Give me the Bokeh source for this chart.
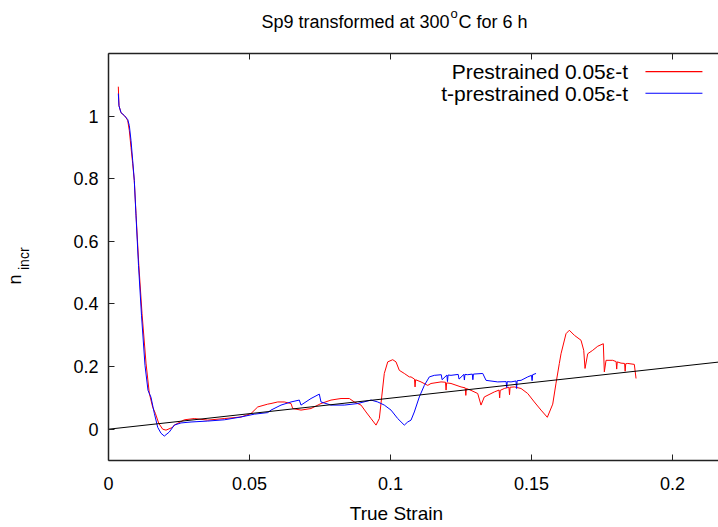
import math
from bokeh.plotting import figure
from bokeh.models import Range1d, LinearAxis, Label, FixedTicker
from bokeh.layouts import row, column
from bokeh.core.properties import value
from bokeh.embed import file_html
from bokeh.resources import INLINE

# ---------------- data ----------------
red_x = [0.00348, 0.00372, 0.00443, 0.00560, 0.00621, 0.00681, 0.00738, 0.00798,
         0.00858, 0.00915, 0.00975, 0.01071, 0.01188, 0.01330, 0.01447, 0.01567,
         0.01660, 0.01780, 0.01922, 0.02039, 0.02277, 0.02333, 0.02688, 0.03043,
         0.03518, 0.04106, 0.04699, 0.05053, 0.05291, 0.05645, 0.05762, 0.06000,
         0.06234, 0.06472, 0.06532, 0.06826, 0.07181, 0.07535, 0.07890, 0.08245,
         0.08539, 0.08716, 0.08954, 0.09131, 0.09309, 0.09486, 0.09603, 0.09688,
         0.09780, 0.09901, 0.10078, 0.10195, 0.10312, 0.10489, 0.10667, 0.10727,
         0.10850, 0.10870, 0.10890,
         0.11082, 0.11319, 0.11436, 0.11791,
         0.11950, 0.11970, 0.11990,
         0.12145, 0.12500,
         0.12650, 0.12670, 0.12690,
         0.12855, 0.13092, 0.13209, 0.13326, 0.13681,
         0.13850, 0.13870, 0.13890,
         0.14035,
         0.14200, 0.14220, 0.14240,
         0.14390, 0.14628, 0.14865, 0.15099,
         0.15337, 0.15560, 0.15752, 0.15869, 0.15986, 0.16046, 0.16223, 0.16340,
         0.16518, 0.16755, 0.16851, 0.16897, 0.16993, 0.17170, 0.17348, 0.17546,
         0.17582, 0.17642, 0.17879,
         0.18000, 0.18020, 0.18040,
         0.18174,
         0.18300, 0.18320, 0.18340,
         0.18411, 0.18645, 0.18706]
red_y = [1.094, 1.033, 1.011, 1.002, 0.995, 0.986, 0.954, 0.900,
         0.848, 0.794, 0.689, 0.530, 0.370, 0.211, 0.115, 0.070,
         0.051, 0.019, 0.000, -0.003, 0.006, 0.013, 0.030, 0.034,
         0.029, 0.034, 0.039, 0.050, 0.071, 0.080, 0.082, 0.087,
         0.087, 0.082, 0.066, 0.061, 0.066, 0.082, 0.093, 0.098,
         0.098, 0.087, 0.077, 0.055, 0.034, 0.013, 0.034, 0.103,
         0.178, 0.215, 0.222, 0.215, 0.188, 0.178, 0.167, 0.167,
         0.160, 0.135, 0.158,
         0.151, 0.140, 0.146, 0.151,
         0.150, 0.125, 0.148,
         0.146, 0.135,
         0.132, 0.108, 0.130,
         0.124, 0.114, 0.077, 0.103, 0.119,
         0.125, 0.100, 0.124,
         0.130,
         0.134, 0.110, 0.134,
         0.135, 0.130, 0.114, 0.087,
         0.061, 0.038, 0.080, 0.147, 0.210, 0.241, 0.305, 0.316,
         0.300, 0.284, 0.252, 0.194, 0.241, 0.252, 0.265, 0.273,
         0.183, 0.220, 0.220,
         0.216, 0.192, 0.215,
         0.211,
         0.210, 0.185, 0.209,
         0.210, 0.207, 0.162]

blue_x = [0.00348, 0.00372, 0.00443, 0.00560, 0.00681, 0.00738, 0.00798, 0.00858,
          0.00915, 0.00975, 0.01064, 0.01170, 0.01294, 0.01401, 0.01507, 0.01624,
          0.01745, 0.01862, 0.01979, 0.02156, 0.02333, 0.02571, 0.02926, 0.03518,
          0.04106, 0.04699, 0.05170, 0.05645, 0.05762, 0.06117, 0.06472, 0.06766,
          0.06826, 0.07181, 0.07475, 0.07535, 0.07890, 0.08362, 0.08837, 0.09309,
          0.09546, 0.09780, 0.10018, 0.10255, 0.10489, 0.10610, 0.10727, 0.10844,
          0.11021, 0.11199, 0.11376, 0.11553, 0.11800, 0.11830,
          0.12000, 0.12020, 0.12040,
          0.12145, 0.12400, 0.12430,
          0.12600, 0.12620, 0.12640,
          0.12738,
          0.12900, 0.12920, 0.12940,
          0.13270, 0.13387, 0.13801,
          0.14100, 0.14120, 0.14140,
          0.14273,
          0.14450, 0.14470, 0.14490,
          0.14628, 0.14865,
          0.15000, 0.15020, 0.15040,
          0.15160]
blue_y = [1.072, 1.033, 1.011, 1.002, 0.989, 0.970, 0.922, 0.858,
          0.794, 0.683, 0.523, 0.364, 0.204, 0.124, 0.102, 0.051,
          0.006, -0.013, -0.022, -0.009, 0.013, 0.020, 0.023, 0.026,
          0.030, 0.039, 0.048, 0.053, 0.061, 0.077, 0.087, 0.093,
          0.077, 0.098, 0.112, 0.087, 0.077, 0.077, 0.082, 0.093,
          0.087, 0.077, 0.061, 0.034, 0.013, 0.023, 0.029, 0.055,
          0.103, 0.140, 0.167, 0.172, 0.174, 0.158,
          0.173, 0.152, 0.173,
          0.172, 0.175, 0.160,
          0.175, 0.157, 0.175,
          0.174,
          0.176, 0.158, 0.176,
          0.178, 0.156, 0.151,
          0.152, 0.133, 0.152,
          0.151,
          0.154, 0.130, 0.155,
          0.156, 0.167,
          0.172, 0.155, 0.174,
          0.178]

fit_x = [0.0, 0.22]
fit_y = [0.0, 0.218]

x_ticks = [0.0, 0.05, 0.1, 0.15, 0.2]
x_tick_labels = ["0", "0.05", "0.1", "0.15", "0.2"]
y_ticks = [0.0, 0.2, 0.4, 0.6, 0.8, 1.0]
y_tick_labels = ["0", "0.2", "0.4", "0.6", "0.8", "1"]

series_names = ["Prestrained 0.05\u03b5-t", "t-prestrained 0.05\u03b5-t"]
series_colors = ["#ff0000", "#0000ff"]
title_parts = ["Sp9 transformed at 300", "o", "C for 6 h"]
x_label = "True Strain"
y_label_parts = ["n", "incr"]

FONT = "Liberation Sans"
FS_TICK = "18px"
FS_TITLE = "18px"
FS_LEG = "21px"
AX_COL = "#222222"

TOP_H = 40          # title strip height
LEFT_W = 40         # y-label strip width
BOT_H = 27          # x-label strip height
W, H = 718, 527


def strip(width, height):
    f = figure(width=width, height=height, output_backend="svg",
               toolbar_location=None, x_range=Range1d(0, width),
               y_range=Range1d(0, height), x_axis_type=None, y_axis_type=None,
               min_border_left=0, min_border_right=0, min_border_top=0,
               min_border_bottom=0)
    f.outline_line_color = None
    f.grid.visible = False
    return f


# ---------------- main plot ----------------
p = figure(width=W - LEFT_W, height=H - TOP_H - BOT_H, output_backend="svg",
           toolbar_location=None,
           x_range=Range1d(0, 0.2163), y_range=Range1d(-0.1, 1.2),
           min_border_left=108 - LEFT_W, min_border_right=0,
           min_border_top=53 - TOP_H, min_border_bottom=40)
p.outline_line_color = None
p.grid.visible = False

for ax, ticks, labels in ((p.xaxis[0], x_ticks, x_tick_labels),
                          (p.yaxis[0], y_ticks, y_tick_labels)):
    ax.ticker = FixedTicker(ticks=ticks)
    ax.major_label_overrides = {t: l for t, l in zip(ticks, labels)}
    ax.minor_tick_line_color = None
    ax.major_tick_in = 6
    ax.major_tick_out = 0
    ax.axis_line_color = AX_COL
    ax.axis_line_width = 1.5
    ax.major_tick_line_color = AX_COL
    ax.major_label_text_font = FONT
    ax.major_label_text_font_size = FS_TICK
    ax.major_label_text_color = "black"
p.xaxis[0].major_label_standoff = 16
p.yaxis[0].major_label_standoff = 10

top = LinearAxis(ticker=FixedTicker(ticks=x_ticks),
                 major_label_overrides={t: "" for t in x_ticks},
                 major_label_standoff=0, major_label_text_font_size="1px",
                 minor_tick_line_color=None, major_tick_in=6, major_tick_out=0,
                 axis_line_color=AX_COL, axis_line_width=1.5,
                 major_tick_line_color=AX_COL)
p.add_layout(top, "above")

p.line(red_x, red_y, line_color=series_colors[0], line_width=1)
p.line(blue_x, blue_y, line_color=series_colors[1], line_width=1)
p.line(fit_x, fit_y, line_color="black", line_width=1)

# legend (gnuplot style: text right-aligned, sample line to the right)
leg_y = [1.142, 1.073]
for name, yy, col in zip(series_names, leg_y, series_colors):
    p.add_layout(Label(x=0.1842, y=yy, text=name, text_align="right",
                       text_baseline="middle", text_font=FONT,
                       text_font_size=FS_LEG, text_color="black"))
    p.line([0.1904, 0.2106], [yy, yy], line_color=col, line_width=1.2)

# ---------------- title strip ----------------
ts = strip(W, TOP_H)
ts.text(x=[449], y=[TOP_H - 21.5], text=[title_parts[0]], text_align="right",
        text_baseline="alphabetic", text_font=value(FONT),
        text_font_size=FS_TITLE, text_color="black")
ts.text(x=[450], y=[TOP_H - 12.5], text=[title_parts[1]], text_align="left",
        text_baseline="alphabetic", text_font=value(FONT),
        text_font_size="13px", text_color="black")
ts.text(x=[458], y=[TOP_H - 21.5], text=[title_parts[2]], text_align="left",
        text_baseline="alphabetic", text_font=value(FONT),
        text_font_size=FS_TITLE, text_color="black")

# ---------------- x label strip ----------------
bs = strip(W - LEFT_W, BOT_H)
bs.text(x=[320], y=[H - 513], text=[x_label], text_align="center",
        text_baseline="middle", text_font=value(FONT), text_font_size="19px",
        text_color="black")

# ---------------- y label strip (n with subscript incr) ----------------
yl = strip(LEFT_W, H - TOP_H)
yl.text(x=[14.5], y=[H - 284], text=[y_label_parts[0]], angle=math.pi / 2,
        text_align="left", text_baseline="alphabetic",
        text_font=value(FONT), text_font_size="18px", text_color="black")
yl.text(x=[23], y=[H - 269.5], text=[y_label_parts[1]], angle=math.pi / 2,
        text_align="left", text_baseline="alphabetic",
        text_font=value(FONT), text_font_size="14px", text_color="black")

layout = column(ts, row(yl, column(p, bs, spacing=0), spacing=0), spacing=0)
open("out.html", "w").write(file_html(layout, INLINE))
